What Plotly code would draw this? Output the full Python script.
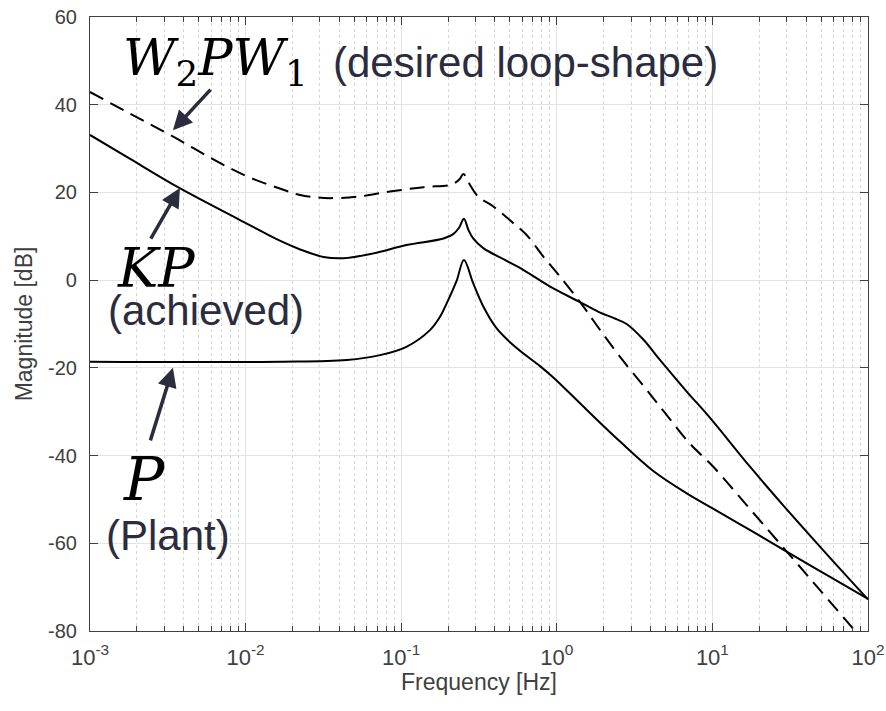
import plotly.graph_objects as go

# ---------------- data ----------------
freq_w2pw1 = [0.001, 0.0018, 0.00327, 0.0072, 0.0108, 0.0175, 0.0224, 0.028, 0.0348,
              0.0518, 0.0847, 0.139, 0.206, 0.222, 0.237, 0.251, 0.265, 0.277, 0.313,
              0.391, 0.525, 0.64, 0.818, 1.05, 1.48, 1.9, 2.55, 3.78, 4.84, 7.18, 10.1,
              16.6, 27.2, 44.5, 71.1, 84.5, 90.0]
mag_w2pw1 = [42.9, 38.0, 33.1, 26.3, 23.3, 20.6, 19.4, 18.9, 18.7,
             19.0, 20.2, 21.2, 21.7, 22.2, 23.0, 24.2, 23.0, 21.7, 19.0,
             16.8, 13.0, 10.3, 5.4, 0.8, -6.0, -11.4, -17.5, -25.0, -29.8, -37.3, -42.5,
             -51.3, -60.1, -68.9, -77.3, -80.4, -81.5]

freq_kp = [0.001, 0.0018, 0.0038, 0.0092, 0.0135, 0.0166, 0.0224, 0.0316, 0.0425,
           0.0662, 0.108, 0.187, 0.216, 0.236, 0.253, 0.27, 0.29, 0.337, 0.476,
           0.58, 0.95, 1.41, 1.9, 2.31, 2.81, 3.61, 4.6, 6.84, 9.66, 17.5,
           28.6, 51.6, 100.0]
mag_kp = [33.1, 27.7, 20.9, 13.7, 10.6, 9.0, 7.0, 5.3, 5.0,
          6.1, 8.0, 9.5, 10.5, 12.0, 14.0, 11.5, 9.5, 7.3, 4.4,
          2.8, -1.9, -5.0, -7.4, -8.6, -10.0, -13.6, -18.2, -25.4, -31.4, -42.6,
          -51.4, -61.6, -72.8]

freq_p = [0.001, 0.0166, 0.0447, 0.0731, 0.108, 0.153, 0.178, 0.196, 0.216,
          0.228, 0.253, 0.29, 0.337, 0.411, 0.552, 0.78, 0.95, 1.56, 2.55,
          4.17, 6.84, 10.1, 17.5, 30.0, 54.2, 100.0]
mag_p = [-18.6, -18.6, -18.2, -17.1, -15.2, -11.4, -8.3, -5.3, -2.0,
         0.0, 4.6, -0.7, -6.0, -11.0, -15.5, -19.6, -22.2, -29.6, -36.8,
         -43.5, -48.6, -52.1, -57.0, -61.9, -67.2, -72.7]

x_tickvals = [0.001, 0.01, 0.1, 1, 10, 100]
x_ticktext = ["10<sup>-3</sup>", "10<sup>-2</sup>", "10<sup>-1</sup>",
              "10<sup>0</sup>", "10<sup>1</sup>", "10<sup>2</sup>"]
x_minor = [m * 10 ** e for e in range(-3, 2) for m in range(2, 10)]
y_tickvals = [-80, -60, -40, -20, 0, 20, 40, 60]
y_ticktext = ["-80", "-60", "-40", "-20", "0", "20", "40", "60"]

# ---------------- figure ----------------
LINE = dict(color="black", width=2, shape="spline", smoothing=1.0)
fig = go.Figure()
fig.add_trace(go.Scatter(x=freq_w2pw1, y=mag_w2pw1, mode="lines",
                         line=dict(LINE, dash="15px,8px"), hoverinfo="skip"))
fig.add_trace(go.Scatter(x=freq_kp, y=mag_kp, mode="lines", line=LINE, hoverinfo="skip"))
fig.add_trace(go.Scatter(x=freq_p, y=mag_p, mode="lines", line=LINE, hoverinfo="skip"))

TXT = "#2b2c3e"
SERIF = "DejaVu Serif"
SANS = "Liberation Sans"

def label(x, y, text, family, size, color):
    return dict(x=x, y=y, text=text, showarrow=False, xanchor="left", yanchor="middle",
                font=dict(family=family, size=size, color=color))

annotations = [
    label(-2.80, 50.0, "<i>W</i><sub>2</sub><i>PW</i><sub>1</sub>", SERIF, 51, "black"),
    label(-1.45, 49.6, "(desired loop-shape)", SANS, 42, TXT),
    label(-2.84, 2.7, "<i>KP</i>", SERIF, 54, "black"),
    label(-2.90, -6.9, "(achieved)", SANS, 42, TXT),
    label(-2.80, -45.3, "<i>P</i>", SERIF, 60, "black"),
    label(-2.91, -58.3, "(Plant)", SANS, 42, TXT),
]
arrow_style = dict(showarrow=True, arrowhead=2, arrowsize=1.1, arrowwidth=3.5,
                   arrowcolor=TXT, text="", standoff=0)
annotations += [
    dict(x=-2.467, y=34.2, ax=39, ay=-42, **arrow_style),
    dict(x=-2.422, y=21.0, ax=-30, ay=52, **arrow_style),
    dict(x=-2.467, y=-20.0, ax=-23, ay=74, **arrow_style),
]

AXC = "#404040"
fig.update_layout(
    width=886, height=711,
    margin=dict(l=90, r=18, t=17, b=80),
    paper_bgcolor="white", plot_bgcolor="white",
    showlegend=False,
    annotations=annotations,
    font=dict(family=SANS, color=AXC),
)
fig.update_xaxes(
    type="log", range=[-3, 2], automargin=False,
    tickvals=x_tickvals, ticktext=x_ticktext,
    tickfont=dict(size=22, color=AXC), ticklabelstandoff=6,
    ticks="inside", ticklen=8, tickcolor=AXC, tickwidth=1,
    showline=True, linecolor=AXC, linewidth=1.2, mirror="allticks",
    showgrid=True, gridcolor="#e3e3e3", gridwidth=1,
    minor=dict(tickvals=x_minor, ticks="inside", ticklen=5, tickcolor=AXC,
               showgrid=True, gridcolor="#d4d4d4", griddash="dot", gridwidth=1),
    title=dict(text="Frequency [Hz]", font=dict(size=23, color=AXC), standoff=4),
    zeroline=False,
)
fig.update_yaxes(
    range=[-80, 60], automargin=False, tickvals=y_tickvals, ticktext=y_ticktext,
    tickfont=dict(size=20, color=AXC), ticklabelstandoff=8,
    ticks="inside", ticklen=8, tickcolor=AXC, tickwidth=1,
    showline=True, linecolor=AXC, linewidth=1.2, mirror="allticks",
    showgrid=True, gridcolor="#e3e3e3", gridwidth=1,
    title=dict(text="Magnitude [dB]", font=dict(size=23, color=AXC), standoff=8),
    zeroline=False,
)

fig.write_html("out.html")
